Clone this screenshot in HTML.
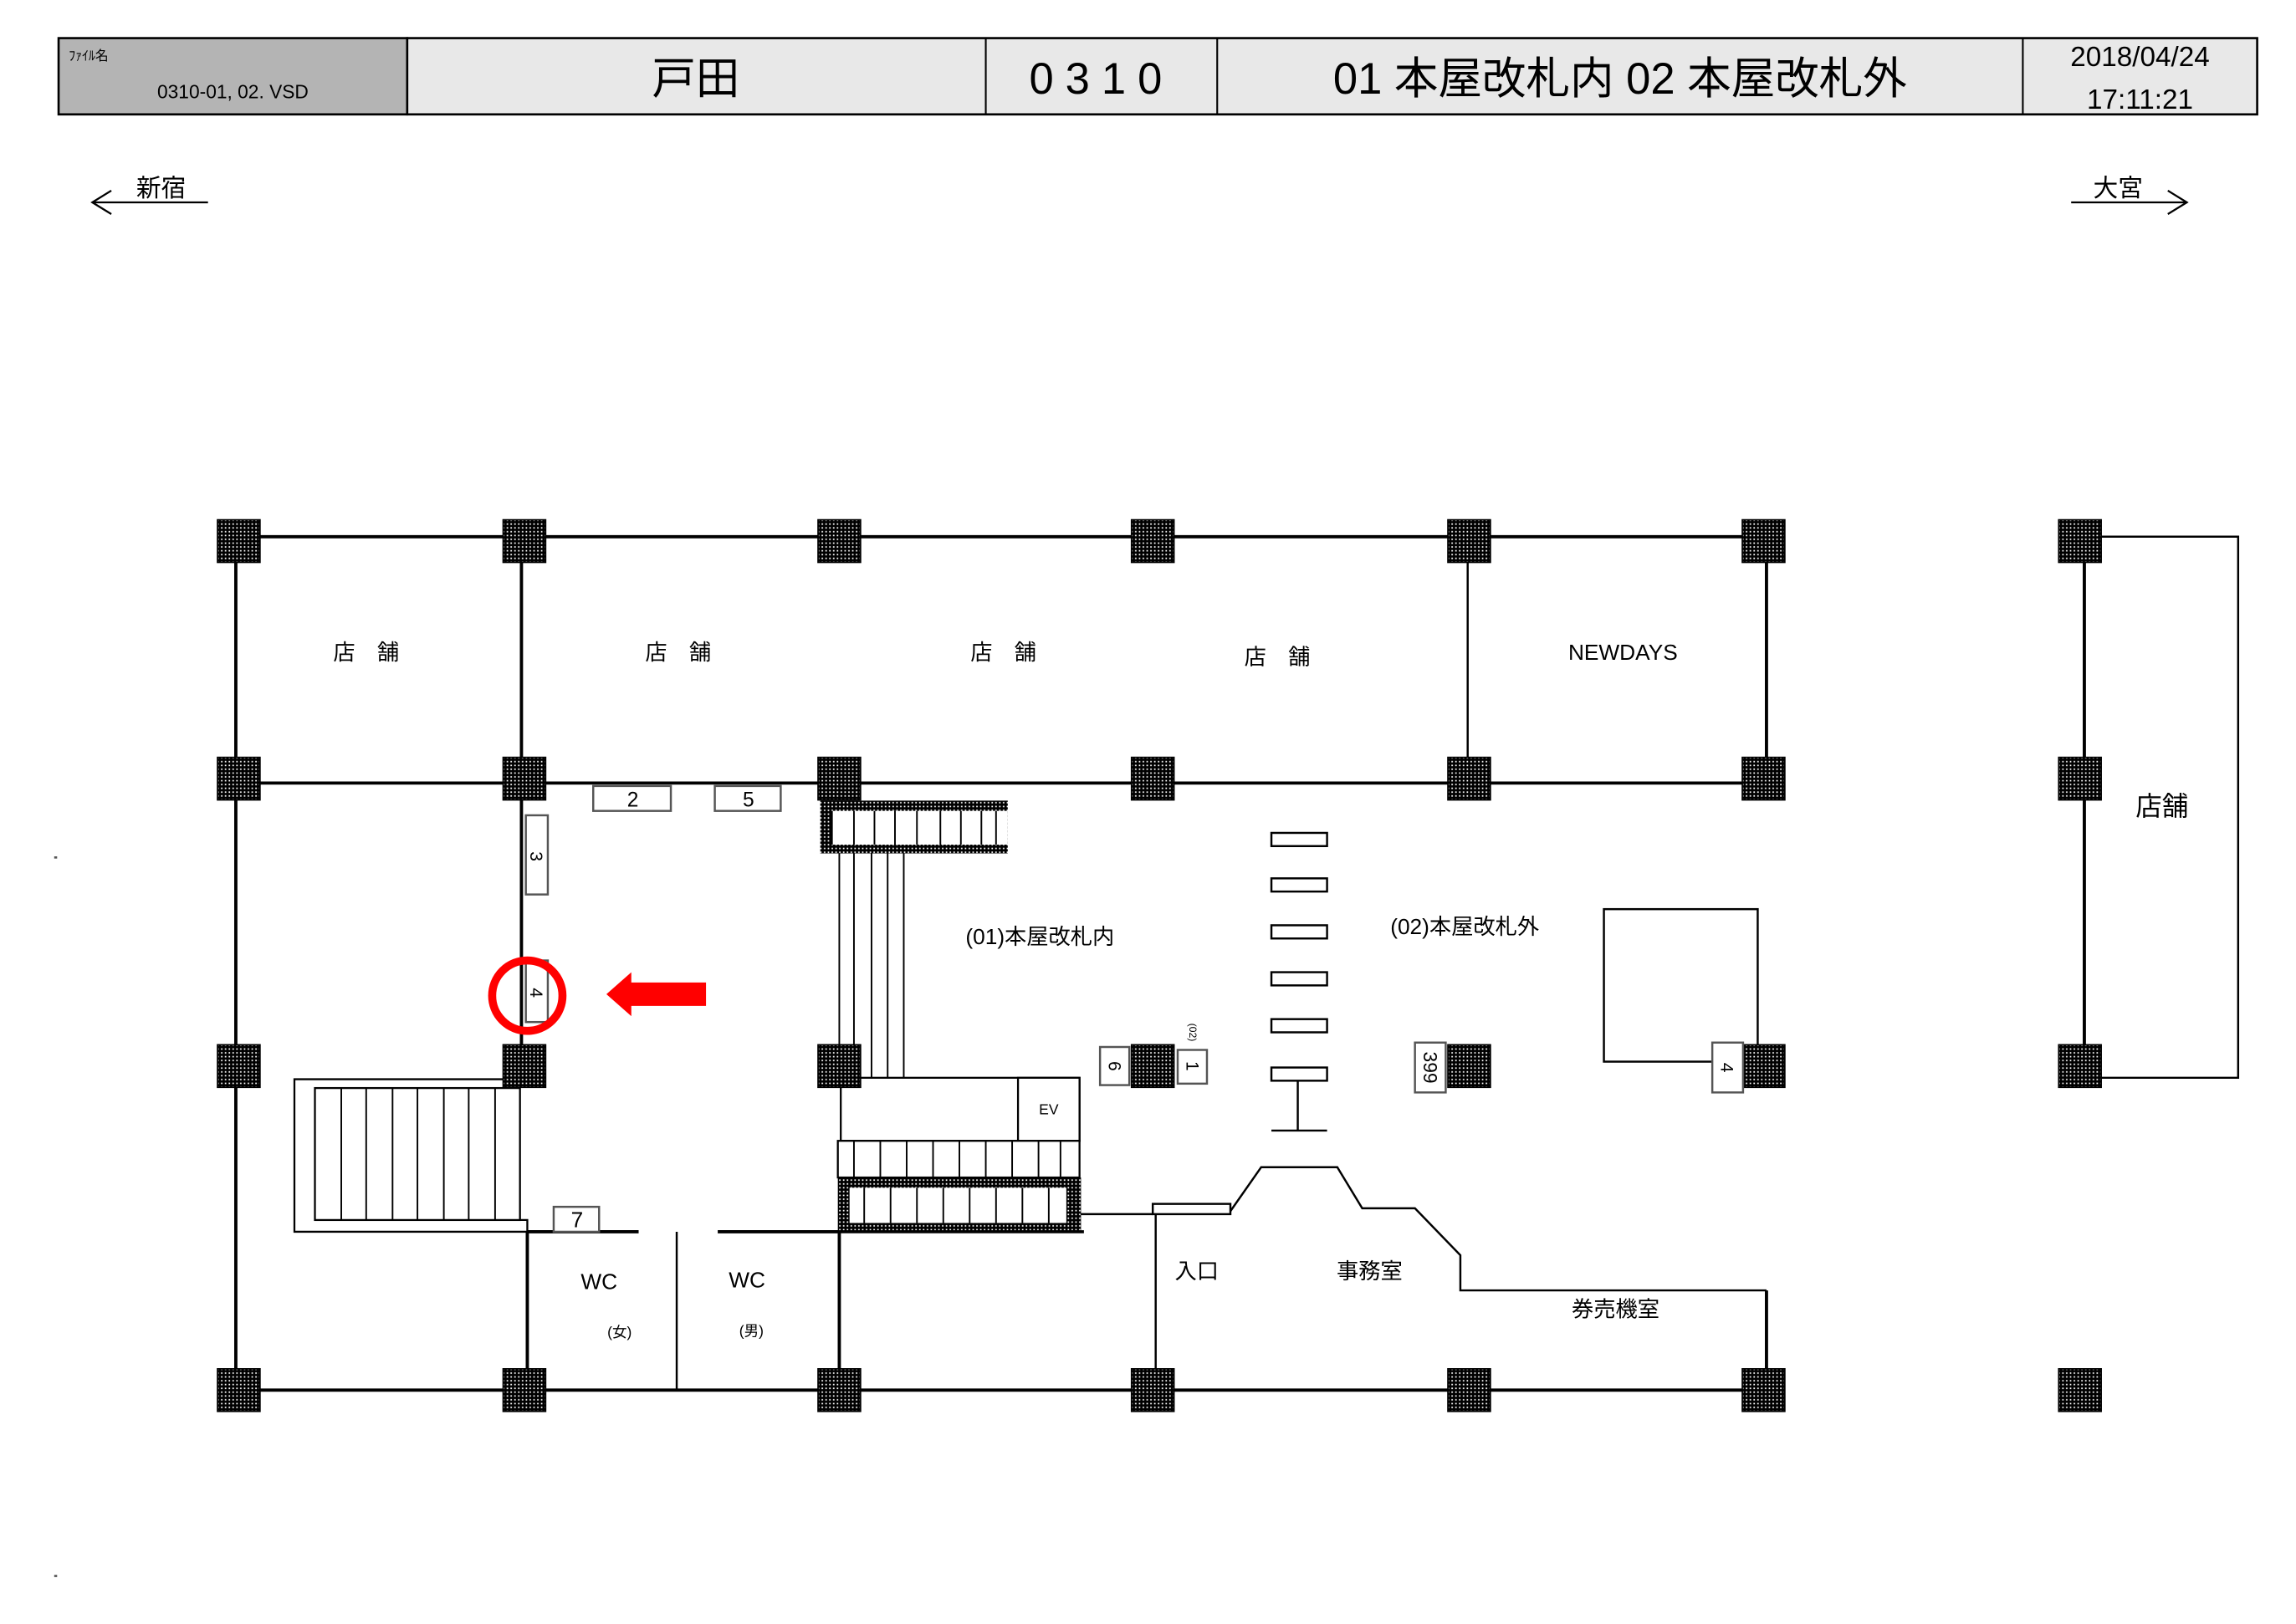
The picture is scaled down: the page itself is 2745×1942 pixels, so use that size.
<!DOCTYPE html>
<html><head><meta charset="utf-8"><style>
html,body{margin:0;padding:0;background:#fff;}
svg{display:block;}
text{font-family:"Liberation Sans","Noto Sans CJK JP",sans-serif;fill:#000;}
</style></head><body>
<svg width="2745" height="1942" viewBox="0 0 1567.5 1107.5" preserveAspectRatio="none" xmlns="http://www.w3.org/2000/svg">
<defs>
<pattern id="dots" width="2.6" height="2.6" patternUnits="userSpaceOnUse">
<rect width="2.6" height="2.6" fill="#000"/><rect x="0.9" y="0.9" width="1" height="1" fill="#fff"/>
</pattern>
<g id="p"><rect x="-14.5" y="-14.5" width="29" height="29" fill="url(#dots)" stroke="#000" stroke-width="1"/></g>
</defs>
<rect width="1567.5" height="1107.5" fill="#fff"/>
<!-- header -->
<rect x="40" y="26" width="238" height="52" fill="#b4b4b4" stroke="#000" stroke-width="1.5"/>
<rect x="278" y="26" width="1263" height="52" fill="#e8e8e8" stroke="#000" stroke-width="1.5"/>
<g stroke="#000" stroke-width="1.2"><line x1="673" y1="26" x2="673" y2="78"/><line x1="831" y1="26" x2="831" y2="78"/><line x1="1381" y1="26" x2="1381" y2="78"/></g>
<text x="47" y="41" font-size="9">ﾌｧｲﾙ名</text>
<text x="159" y="67" font-size="13" text-anchor="middle">0310-01, 02. VSD</text>
<text x="475" y="64" font-size="30" text-anchor="middle">戸田</text>
<text x="752" y="64" font-size="30" text-anchor="middle" letter-spacing="8">0310</text>
<text x="1106" y="64" font-size="30" text-anchor="middle">01 本屋改札内 02 本屋改札外</text>
<text x="1461" y="45" font-size="19" text-anchor="middle">2018/04/24</text>
<text x="1461" y="74" font-size="19" text-anchor="middle">17:11:21</text>
<!-- direction arrows -->
<g stroke="#000" stroke-width="1.3" fill="none">
<line x1="63" y1="138" x2="142" y2="138"/><polyline points="76,130 63,138 76,146"/>
<line x1="1414" y1="138" x2="1493" y2="138"/><polyline points="1480,130 1493,138 1480,146"/>
</g>
<text x="110" y="134" font-size="17" text-anchor="middle">新宿</text>
<text x="1446" y="134" font-size="17" text-anchor="middle">大宮</text>
<rect x="37" y="584" width="2" height="1.5" fill="#555"/><rect x="37" y="1074" width="2" height="1.5" fill="#555"/>
<!-- walls -->
<g stroke="#000" stroke-width="2.2" fill="none">
<line x1="163" y1="366" x2="1204" y2="366"/>
<line x1="163" y1="534" x2="1204" y2="534"/>
<line x1="163" y1="948" x2="1204" y2="948"/>
<line x1="161" y1="369" x2="161" y2="948"/>
<line x1="356" y1="369" x2="356" y2="727"/>
<line x1="360" y1="840" x2="360" y2="948"/>
<line x1="1206" y1="369" x2="1206" y2="531"/>
<line x1="1423" y1="369" x2="1423" y2="727"/>
<line x1="360" y1="840" x2="436" y2="840"/>
<line x1="490" y1="840" x2="573" y2="840"/>
<line x1="573" y1="840" x2="573" y2="948"/>
<line x1="1206" y1="880" x2="1206" y2="948"/>
</g>
<g stroke="#000" stroke-width="1.4" fill="none">
<line x1="1002" y1="369" x2="1002" y2="531"/>
<polyline points="1420,366 1528,366 1528,735 1420,735"/>
<line x1="462" y1="840" x2="462" y2="948"/>
<line x1="789" y1="828" x2="789" y2="948"/>
<line x1="737" y1="828" x2="787" y2="828"/>
<rect x="787" y="821" width="53" height="7"/>
<polyline points="840,826 861,796 913,796 930,824 966,824 997,856 997,880 1206,880"/>
<rect x="1095" y="620" width="105" height="104"/>
<line x1="886" y1="737" x2="886" y2="771"/><line x1="868" y1="771" x2="906" y2="771"/>
</g>
<!-- gates -->
<g stroke="#000" stroke-width="1.4" fill="#fff">
<rect x="868" y="568" width="38" height="9"/><rect x="868" y="599" width="38" height="9"/>
<rect x="868" y="631" width="38" height="9"/><rect x="868" y="663" width="38" height="9"/>
<rect x="868" y="695" width="38" height="9"/><rect x="868" y="728" width="38" height="9"/>
</g>
<!-- left stair -->
<g stroke="#000" stroke-width="1.3" fill="#fff">
<path d="M360,736 H201 V840 H360 V832 H355" fill="none"/>
<rect x="215" y="742" width="140" height="90"/>
</g>
<g stroke="#000" stroke-width="1.1">
<line x1="233" y1="742" x2="233" y2="832"/><line x1="250" y1="742" x2="250" y2="832"/><line x1="268" y1="742" x2="268" y2="832"/><line x1="285" y1="742" x2="285" y2="832"/><line x1="303" y1="742" x2="303" y2="832"/><line x1="320" y1="742" x2="320" y2="832"/><line x1="338" y1="742" x2="338" y2="832"/>
</g>
<!-- center escalators -->
<rect x="560" y="546" width="128" height="36" fill="url(#dots)"/>
<rect x="568" y="553" width="120" height="23" fill="#fff"/>
<g stroke="#000" stroke-width="1.1">
<line x1="568" y1="553" x2="568" y2="576"/><line x1="583" y1="553" x2="583" y2="576"/><line x1="597" y1="553" x2="597" y2="576"/><line x1="611" y1="553" x2="611" y2="576"/><line x1="626" y1="553" x2="626" y2="576"/><line x1="642" y1="553" x2="642" y2="576"/><line x1="656" y1="553" x2="656" y2="576"/><line x1="670" y1="553" x2="670" y2="576"/><line x1="680" y1="553" x2="680" y2="576"/>
<line x1="573" y1="582" x2="573" y2="727"/><line x1="583" y1="582" x2="583" y2="727"/><line x1="595" y1="582" x2="595" y2="735"/><line x1="606" y1="582" x2="606" y2="735"/><line x1="617" y1="582" x2="617" y2="735"/>
</g>
<g stroke="#000" stroke-width="1.3" fill="#fff">
<rect x="574" y="735" width="163" height="43"/>
<rect x="695" y="735" width="42" height="43"/>
<rect x="572" y="778" width="165" height="25"/>
</g>
<g stroke="#000" stroke-width="1.1">
<line x1="583" y1="778" x2="583" y2="803"/><line x1="601" y1="778" x2="601" y2="803"/><line x1="619" y1="778" x2="619" y2="803"/><line x1="637" y1="778" x2="637" y2="803"/><line x1="655" y1="778" x2="655" y2="803"/><line x1="673" y1="778" x2="673" y2="803"/><line x1="691" y1="778" x2="691" y2="803"/><line x1="709" y1="778" x2="709" y2="803"/><line x1="724" y1="778" x2="724" y2="803"/>
</g>
<rect x="572" y="803" width="166" height="37" fill="url(#dots)"/>
<rect x="580" y="810" width="148" height="24" fill="#fff"/>
<g stroke="#000" stroke-width="1.1">
<line x1="590" y1="810" x2="590" y2="834"/><line x1="608" y1="810" x2="608" y2="834"/><line x1="626" y1="810" x2="626" y2="834"/><line x1="644" y1="810" x2="644" y2="834"/><line x1="662" y1="810" x2="662" y2="834"/><line x1="680" y1="810" x2="680" y2="834"/><line x1="698" y1="810" x2="698" y2="834"/><line x1="716" y1="810" x2="716" y2="834"/>
</g>
<line x1="572" y1="840" x2="740" y2="840" stroke="#000" stroke-width="2"/>
<text x="716" y="760" font-size="10" text-anchor="middle">EV</text>
<!-- pillars -->
<g>
<use href="#p" x="163" y="369"/><use href="#p" x="358" y="369"/><use href="#p" x="573" y="369"/><use href="#p" x="787" y="369"/><use href="#p" x="1003" y="369"/><use href="#p" x="1204" y="369"/><use href="#p" x="1420" y="369"/>
<use href="#p" x="163" y="531"/><use href="#p" x="358" y="531"/><use href="#p" x="573" y="531"/><use href="#p" x="787" y="531"/><use href="#p" x="1003" y="531"/><use href="#p" x="1204" y="531"/><use href="#p" x="1420" y="531"/>
<use href="#p" x="163" y="727"/><use href="#p" x="358" y="727"/><use href="#p" x="573" y="727"/><use href="#p" x="787" y="727"/><use href="#p" x="1003" y="727"/><use href="#p" x="1204" y="727"/><use href="#p" x="1420" y="727"/>
<use href="#p" x="163" y="948"/><use href="#p" x="358" y="948"/><use href="#p" x="573" y="948"/><use href="#p" x="787" y="948"/><use href="#p" x="1003" y="948"/><use href="#p" x="1204" y="948"/><use href="#p" x="1420" y="948"/>
</g>
<!-- number boxes -->
<g stroke="#555" stroke-width="1.4" fill="#fff">
<rect x="405" y="536" width="53" height="17"/><rect x="488" y="536" width="45" height="17"/>
<rect x="359" y="556" width="15" height="54"/><rect x="359" y="655" width="15" height="42"/>
<rect x="378" y="823" width="31" height="17"/>
<rect x="751" y="714" width="20" height="26"/><rect x="804" y="716" width="20" height="23"/>
<rect x="966" y="711" width="21" height="34"/><rect x="1169" y="711" width="21" height="34"/>
</g>
<text x="432" y="550" font-size="14" text-anchor="middle">2</text>
<text x="511" y="550" font-size="14" text-anchor="middle">5</text>
<text x="394" y="837" font-size="15" text-anchor="middle">7</text>
<text transform="translate(362,584) rotate(90)" font-size="12" text-anchor="middle">3</text>
<text transform="translate(362,677) rotate(90)" font-size="12" text-anchor="middle">4</text>
<text transform="translate(757,727) rotate(90)" font-size="12" text-anchor="middle">6</text>
<text transform="translate(810,727) rotate(90)" font-size="12" text-anchor="middle">1</text>
<text transform="translate(812,704) rotate(90)" font-size="7" text-anchor="middle">(02)</text>
<text transform="translate(972,728) rotate(90)" font-size="13" text-anchor="middle">399</text>
<text transform="translate(1175,728) rotate(90)" font-size="12" text-anchor="middle">4</text>
<!-- red marks -->
<circle cx="360" cy="679" r="24" fill="none" stroke="#f00" stroke-width="5.5"/>
<polygon points="414,678 431,663 431,670 482,670 482,686 431,686 431,693" fill="#f00"/>
<!-- labels -->
<g font-size="15" text-anchor="middle">
<text x="250" y="450">店　舗</text><text x="463" y="450">店　舗</text><text x="685" y="450">店　舗</text><text x="872" y="453">店　舗</text>
<text x="1108" y="450">NEWDAYS</text>
<text x="710" y="644">(01)本屋改札内</text>
<text x="1000" y="637">(02)本屋改札外</text>
<text x="409" y="879">WC</text><text x="510" y="878">WC</text>
<text x="817" y="872">入口</text><text x="935" y="872">事務室</text><text x="1103" y="898">券売機室</text>
</g>
<text x="1476" y="556" font-size="18" text-anchor="middle">店舗</text>
<text x="423" y="912" font-size="10" text-anchor="middle">(女)</text>
<text x="513" y="911" font-size="10" text-anchor="middle">(男)</text>
</svg>
</body></html>
